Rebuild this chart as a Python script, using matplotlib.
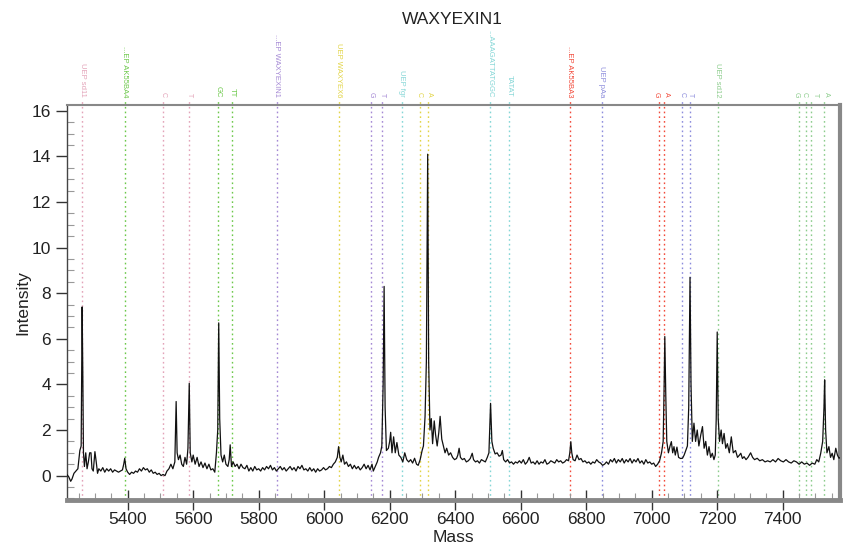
import matplotlib
matplotlib.use("Agg")
import matplotlib.pyplot as plt
import matplotlib.transforms as mtransforms
from matplotlib.ticker import MultipleLocator

plt.rcParams['font.family'] = ['Liberation Sans', 'DejaVu Sans']

# ---- spectrum ----
mass = [
    5214, 5220, 5226, 5230, 5236, 5242, 5248, 5254, 5258, 5261, 5263, 5265, 5268, 5272, 5276, 5280,
    5284, 5288, 5291, 5295, 5300, 5304, 5308, 5312, 5318, 5324, 5330, 5336, 5342, 5348, 5354, 5360,
    5366, 5372, 5378, 5384, 5388, 5391, 5395, 5400, 5406, 5412, 5418, 5424, 5430, 5436, 5442, 5448,
    5454, 5460, 5466, 5472, 5478, 5484, 5490, 5496, 5502, 5508, 5514, 5520, 5526, 5532, 5538, 5544,
    5548, 5551, 5555, 5560, 5565, 5570, 5575, 5580, 5584, 5588, 5591, 5596, 5600, 5606, 5612, 5618,
    5624, 5630, 5636, 5642, 5648, 5654, 5660, 5666, 5671, 5675, 5678, 5681, 5685, 5690, 5695, 5700,
    5706, 5710, 5713, 5717, 5722, 5728, 5734, 5740, 5746, 5752, 5758, 5764, 5770, 5776, 5782, 5788,
    5794, 5800, 5806, 5812, 5818, 5824, 5830, 5836, 5842, 5848, 5854, 5860, 5866, 5872, 5878, 5884,
    5890, 5896, 5902, 5908, 5914, 5920, 5926, 5932, 5938, 5944, 5950, 5956, 5962, 5968, 5974, 5980,
    5986, 5992, 5998, 6004, 6010, 6016, 6022, 6028, 6034, 6040, 6044, 6048, 6052, 6057, 6062, 6068,
    6074, 6080, 6086, 6092, 6098, 6104, 6110, 6116, 6122, 6128, 6134, 6140, 6146, 6150, 6156, 6162,
    6166, 6172, 6176, 6180, 6183, 6186, 6190, 6196, 6200, 6203, 6207, 6212, 6217, 6222, 6228, 6234,
    6240, 6246, 6252, 6258, 6264, 6270, 6276, 6282, 6287, 6293, 6299, 6303, 6308, 6312, 6316, 6319,
    6323, 6327, 6331, 6336, 6340, 6345, 6350, 6354, 6359, 6364, 6369, 6374, 6380, 6386, 6392, 6398,
    6404, 6408, 6412, 6416, 6422, 6428, 6434, 6440, 6446, 6452, 6456, 6462, 6468, 6474, 6480, 6486,
    6492, 6498, 6503, 6508, 6512, 6516, 6522, 6528, 6534, 6540, 6544, 6548, 6554, 6560, 6566, 6572,
    6578, 6584, 6590, 6596, 6602, 6608, 6614, 6620, 6626, 6632, 6638, 6644, 6650, 6656, 6662, 6668,
    6674, 6680, 6686, 6692, 6698, 6704, 6710, 6716, 6722, 6728, 6734, 6740, 6746, 6750, 6753, 6756,
    6760, 6766, 6772, 6778, 6784, 6790, 6796, 6802, 6808, 6814, 6820, 6826, 6832, 6838, 6844, 6850,
    6856, 6862, 6868, 6874, 6880, 6886, 6892, 6898, 6904, 6910, 6916, 6922, 6928, 6934, 6940, 6946,
    6952, 6958, 6964, 6970, 6976, 6982, 6988, 6994, 7000, 7006, 7012, 7018, 7024, 7030, 7035, 7038,
    7040, 7043, 7046, 7051, 7056, 7060, 7064, 7068, 7072, 7077, 7082, 7088, 7094, 7099, 7104, 7109,
    7113, 7117, 7120, 7124, 7129, 7134, 7139, 7144, 7150, 7155, 7160, 7165, 7170, 7175, 7180, 7185,
    7190, 7194, 7197, 7200, 7203, 7207, 7212, 7216, 7221, 7226, 7231, 7237, 7243, 7249, 7256, 7262,
    7268, 7272, 7277, 7282, 7288, 7294, 7302, 7308, 7314, 7322, 7330, 7338, 7346, 7354, 7362, 7370,
    7378, 7386, 7394, 7402, 7410, 7418, 7426, 7434, 7442, 7450, 7458, 7466, 7474, 7482, 7490, 7498,
    7504, 7510, 7516, 7522, 7526, 7528, 7531, 7535, 7541, 7546, 7551, 7556, 7562, 7567, 7572, 7576,
]
intensity = [
    0.05, -0.05, -0.25, -0.15, 0.1, 0.2, 0.3, 1.1, 1.3, 7.4, 4.5, 1.0, 0.4, 1.0, 0.3, 0.6,
    1.0, 1.0, 0.3, 0.2, 1.05, 0.6, 0.1, 0.3, 0.2, 0.35, 0.15, 0.3, 0.2, 0.3, 0.15, 0.25,
    0.2, 0.15, 0.2, 0.25, 0.5, 0.76, 0.3, 0.15, 0.05, 0.15, 0.1, 0.2, 0.15, 0.3, 0.2, 0.35,
    0.25, 0.3, 0.15, 0.25, 0.1, 0.15, 0.05, 0.1, 0.0, 0.05, 0.0, 0.2, 0.3, 0.5, 0.3, 0.6,
    3.25, 1.0, 0.7, 0.9, 0.5, 0.4, 0.8, 0.5, 1.2, 4.05, 1.0, 0.6, 0.9, 0.5, 0.8, 0.4,
    0.6, 0.35, 0.55, 0.3, 0.5, 0.25, 0.3, 0.15, 1.0, 2.0, 6.7, 2.5, 0.9, 0.6, 0.9, 0.5,
    0.4, 0.7, 1.35, 0.4, 0.6, 0.4, 0.5, 0.3, 0.5, 0.35, 0.3, 0.45, 0.2, 0.35, 0.2, 0.4,
    0.25, 0.3, 0.2, 0.35, 0.25, 0.4, 0.3, 0.45, 0.25, 0.35, 0.2, 0.3, 0.4, 0.25, 0.35, 0.2,
    0.3, 0.4, 0.25, 0.35, 0.2, 0.4, 0.3, 0.45, 0.25, 0.3, 0.2, 0.35, 0.2, 0.3, 0.15, 0.3,
    0.2, 0.25, 0.35, 0.25, 0.3, 0.4, 0.35, 0.5, 0.6, 0.8, 1.27, 0.8, 0.6, 0.9, 0.5, 0.6,
    0.4, 0.5, 0.3, 0.45, 0.3, 0.4, 0.25, 0.35, 0.5, 0.3, 0.45, 0.25, 0.5, 0.2, 0.4, 0.6,
    0.8, 1.0, 1.3, 4.0, 8.3, 3.0, 1.1, 1.2, 1.5, 1.9, 1.0, 1.7, 1.0, 1.45, 0.9, 0.8,
    0.6, 1.0, 0.7, 0.6, 0.7, 0.55, 0.76, 0.5, 0.45, 0.7, 1.1, 1.3, 2.6, 5.0, 14.1, 5.0,
    2.0, 2.5, 1.4, 2.4, 1.8, 1.3, 1.9, 2.6, 1.6, 1.3, 1.0, 1.2, 0.9, 1.0, 0.8, 0.7,
    0.75, 0.9, 1.2, 0.8, 0.7, 0.75, 0.6, 0.65, 0.75, 0.98, 0.7, 0.6, 0.65, 0.55, 0.7, 0.65,
    0.6, 0.8, 1.0, 3.17, 1.5, 1.2, 0.95, 1.0, 0.85, 0.9, 1.1, 0.7, 0.6, 0.7, 0.55, 0.6,
    0.5, 0.6, 0.55, 0.65, 0.55, 0.7, 0.5, 0.6, 0.8, 0.55, 0.6, 0.5, 0.65, 0.5, 0.6, 0.55,
    0.7, 0.5, 0.55, 0.65, 0.6, 0.55, 0.7, 0.6, 0.65, 0.55, 0.6, 0.7, 0.65, 1.0, 1.49, 1.0,
    0.7, 0.65, 0.9, 0.7, 0.75, 0.6, 0.65, 0.55, 0.6, 0.5, 0.6, 0.55, 0.7, 0.6, 0.55, 0.45,
    0.5, 0.6, 0.5, 0.7, 0.6, 0.75, 0.55, 0.7, 0.6, 0.75, 0.55, 0.7, 0.6, 0.75, 0.55, 0.7,
    0.6, 0.75, 0.55, 0.65, 0.5, 0.7, 0.55, 0.6, 0.5, 0.55, 0.4, 0.5, 0.65, 1.0, 1.5, 4.0,
    6.1, 3.5, 1.5, 1.0, 1.3, 1.49, 1.0, 1.27, 0.9, 1.25, 0.8, 0.75, 0.76, 0.9, 1.1, 1.3,
    3.0, 8.7, 4.0, 1.5, 2.3, 1.5, 2.0, 1.3, 1.8, 2.15, 1.2, 1.5, 0.9, 1.27, 0.8, 0.98,
    0.7, 0.9, 2.5, 6.3, 2.5, 1.5, 2.0, 1.4, 1.85, 1.2, 1.4, 1.0, 1.7, 1.0, 1.1, 0.8,
    0.9, 0.98, 0.75, 0.83, 0.7, 0.8, 1.0, 0.8, 0.7, 0.76, 0.65, 0.7, 0.6, 0.65, 0.6, 0.7,
    0.6, 0.75, 0.65, 0.6, 0.7, 0.6, 0.55, 0.65, 0.6, 0.5, 0.6, 0.5, 0.55, 0.45, 0.55, 0.5,
    0.7, 0.6, 0.98, 1.5, 3.0, 4.2, 2.0, 1.0, 1.27, 0.8, 0.98, 0.7, 1.2, 0.9, 0.76, 0.8,
]

# ---- annotation markers ----
marker_mass = [5262, 5391, 5509, 5587, 5677, 5718, 5855, 6044, 6143, 6178, 6237, 6294, 6317,
               6507, 6564, 6750, 6848, 7023, 7037, 7094, 7117, 7201, 7450, 7470, 7486, 7526]
marker_label = ["UEP sd11", "...EP AK55BA4", "C", "T", "GC", "TT", "...EP WAXYEXIN1",
                "UEP WAXYEX6", "G", "T", "UEP fgr", "C", "A", "...AAAGATTATGGC", "TATAT",
                "...EP AK55BA3", "UEP pAa", "G", "A", "C", "T", "UEP sd12", "G", "C", "T", "A"]
PINK, GREEN, PURPLE, YELLOW, CYAN, RED, BLUE, LGREEN = (
    "#e3a3b8", "#6cc84a", "#a488d4", "#e2d446", "#84d6d6", "#f24a3a", "#8c8cdc", "#8ccc8c")
marker_color = [PINK, GREEN, PINK, PINK, GREEN, GREEN, PURPLE, YELLOW, PURPLE, PURPLE, CYAN,
                YELLOW, YELLOW, CYAN, CYAN, RED, BLUE, RED, RED, BLUE, BLUE, LGREEN,
                LGREEN, LGREEN, LGREEN, LGREEN]

# small horizontal nudges (pixels) for crowded labels
label_nudge = {11: -1.5, 12: 1.5, 17: -3.0, 18: 3.0, 22: -3.0, 23: -1.5, 24: 5.0, 25: 2.0}

fig = plt.figure(figsize=(8.44, 5.54), dpi=100)
ax = fig.add_axes([0.0794, 0.0975, 0.9159, 0.713])

for i, (m, lab, c) in enumerate(zip(marker_mass, marker_label, marker_color)):
    ax.axvline(m, ymin=0, ymax=1.015, color=c, ls=(0, (1.2, 2.2)), lw=1.0, clip_on=False, zorder=1)
    trans = mtransforms.offset_copy(ax.get_xaxis_transform(), fig=fig,
                                    x=label_nudge.get(i, 0.0) * 0.72, y=0, units='points')
    fs = 5.5 if len(lab) > 1 else 5.0
    ax.text(m, 1.02, lab, transform=trans, rotation=270,
            ha='center', va='bottom', fontsize=fs, color=c, clip_on=False)

ax.plot(mass, intensity, color='#111111', lw=0.9, zorder=3)

ax.set_xlim(5214.8, 7575)
ax.set_ylim(-1.07, 16.26)

ax.xaxis.set_major_locator(MultipleLocator(200))
ax.xaxis.set_minor_locator(MultipleLocator(50))
ax.yaxis.set_major_locator(MultipleLocator(2))
ax.yaxis.set_minor_locator(MultipleLocator(0.5))

ax.tick_params(axis='x', which='major', direction='inout', length=14, width=1.0, labelsize=12.5,
               colors='#333333', labelcolor='#222222', pad=2)
ax.tick_params(axis='x', which='minor', direction='in', length=5, width=0.8, colors='#999999')
ax.tick_params(axis='y', which='major', direction='out', length=8, width=1.0, labelsize=12.5,
               colors='#333333', labelcolor='#222222')
ax.tick_params(axis='y', which='minor', direction='in', length=5, width=0.8, colors='#999999')

ax.spines['left'].set_color('#444444')
ax.spines['left'].set_linewidth(1.0)
ax.spines['top'].set_color('#888888')
ax.spines['top'].set_linewidth(1.5)
ax.spines['right'].set_color('#888888')
ax.spines['right'].set_linewidth(3)
ax.spines['bottom'].set_color('#888888')
ax.spines['bottom'].set_linewidth(3.5)

ax.set_xlabel("Mass", fontsize=12.5, color='#222222', labelpad=2)
ax.set_ylabel("Intensity", fontsize=12.5, color='#222222', labelpad=1)
fig.text(0.536, 0.965, "WAXYEXIN1", ha='center', va='center', fontsize=12.5, color='#222222')

fig.savefig("out.png", dpi=100)
